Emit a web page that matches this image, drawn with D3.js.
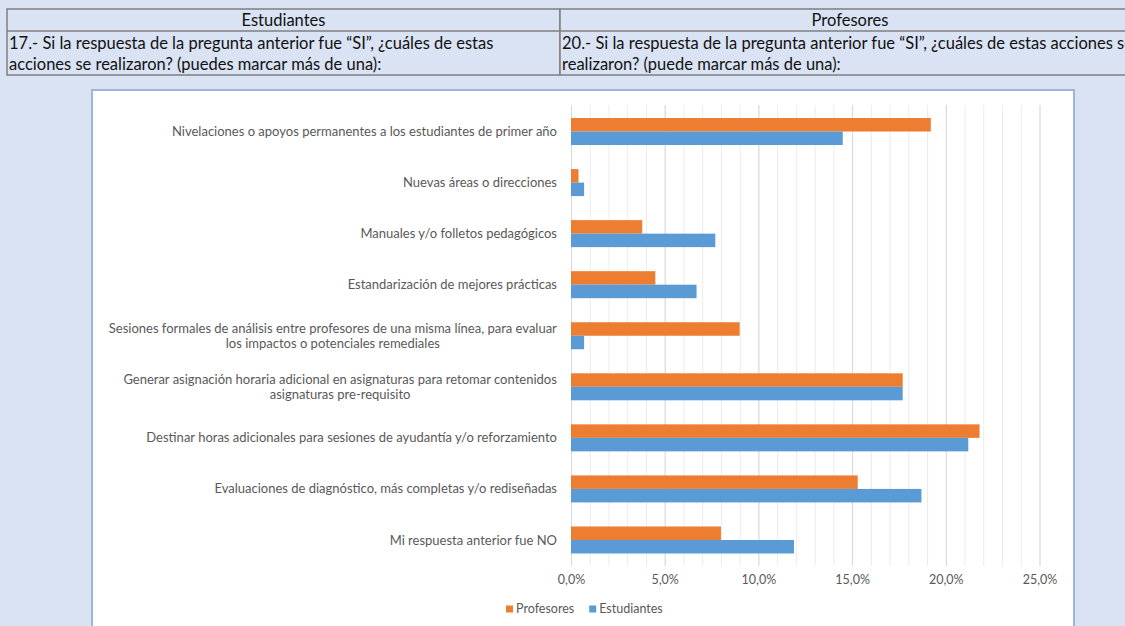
<!DOCTYPE html>
<html>
<head>
<meta charset="utf-8">
<script src="https://cdn.jsdelivr.net/npm/d3@7"></script>
<style>
  body { margin: 0; background: #dae3f3; }
  svg { display: block; }
</style>
</head>
<body>
<div id="chart"></div>
<script>
// Data
const categories = [
    "Nivelaciones o apoyos permanentes a los estudiantes de primer año",
    "Nuevas áreas o direcciones",
    "Manuales y/o folletos pedagógicos",
    "Estandarización de mejores prácticas",
    "Sesiones formales de análisis entre profesores de una misma línea, para evaluar|los impactos o potenciales remediales",
    "Generar asignación horaria adicional en asignaturas para retomar contenidos|asignaturas pre-requisito",
    "Destinar horas adicionales para sesiones de ayudantía y/o reforzamiento",
    "Evaluaciones de diagnóstico, más completas y/o rediseñadas",
    "Mi respuesta anterior fue NO"
];
const profesores  = [19.2, 0.4, 3.8, 4.5, 9.0, 17.7, 21.8, 15.3, 8.0];
const estudiantes = [14.5, 0.7, 7.7, 6.7, 0.7, 17.7, 21.2, 18.7, 11.9];
const seriesNames = ["Profesores", "Estudiantes"];
const seriesColors = ["#ED7D31", "#5B9BD5"];
const xTicks = [0, 5, 10, 15, 20, 25];

const headers = ["Estudiantes", "Profesores"];
const questions = [
    ["17.- Si la respuesta de la pregunta anterior fue “SI”, ¿cuáles de estas", "acciones se realizaron? (puedes marcar más de una):"],
    ["20.- Si la respuesta de la pregunta anterior fue “SI”, ¿cuáles de estas acciones se", "realizaron? (puede marcar más de una):"]
];

const W = 1125, H = 626;
const svg = d3.select("#chart").append("svg")
    .attr("width", W)
    .attr("height", H);

// --- header table ---
const table = svg.append("g");
const colX = [7, 560, 1200];
const rowY = [9, 31, 75];
headers.forEach((h, i) => {
    table.append("rect")
        .attr("x", colX[i]).attr("y", rowY[0])
        .attr("width", colX[i + 1] - colX[i]).attr("height", rowY[2] - rowY[0])
        .attr("fill", "#dae3f3")
        .attr("stroke", "#7f7f7f").attr("stroke-width", 1.5);
    table.append("line")
        .attr("x1", colX[i]).attr("x2", colX[i + 1])
        .attr("y1", rowY[1]).attr("y2", rowY[1])
        .attr("stroke", "#7f7f7f").attr("stroke-width", 1.5);
    table.append("text")
        .attr("x", i === 0 ? (colX[0] + colX[1]) / 2 : 850)
        .attr("y", 26)
        .attr("text-anchor", "middle")
        .style("font", "16.5px Lato")
        .style("fill", "#111")
        .text(h);
    questions[i].forEach((line, j) => {
        table.append("text")
            .attr("x", colX[i] + 2)
            .attr("y", 49 + j * 21)
            .style("font", "16.5px Lato")
            .style("fill", "#111")
            .text(line);
    });
});

// --- chart frame ---
svg.append("rect")
    .attr("x", 92).attr("y", 90)
    .attr("width", 1074 - 92).attr("height", 560)
    .attr("fill", "#fff")
    .attr("stroke", "#9db4dc").attr("stroke-width", 2);

const x = d3.scaleLinear().domain([0, 25]).range([571, 1039.5]);
const y = d3.scaleBand().domain(categories).range([105, 566.5])
    .paddingInner(0.471).paddingOuter(0.255);
const yTop = 105, yBot = 566;

const g = svg.append("g");

// minor and major gridlines
g.append("g")
    .attr("transform", `translate(0,${yBot})`)
    .call(d3.axisBottom(x).ticks(25).tickSize(-(yBot - yTop)).tickFormat(""))
    .call(a => a.select(".domain").remove())
    .call(a => a.selectAll("line").attr("stroke", "#ececec"));
g.append("g")
    .attr("transform", `translate(0,${yBot})`)
    .call(d3.axisBottom(x).tickValues(xTicks).tickSize(-(yBot - yTop)).tickFormat(""))
    .call(a => a.select(".domain").remove())
    .call(a => a.selectAll("line").attr("stroke", "#d9d9d9"));

// bars
const bh = y.bandwidth() / 2;
[profesores, estudiantes].forEach((vals, s) => {
    g.selectAll(null)
        .data(categories)
        .join("rect")
        .attr("x", x(0))
        .attr("y", d => y(d) + s * bh)
        .attr("width", (d, i) => x(vals[i]) - x(0))
        .attr("height", bh)
        .attr("fill", seriesColors[s]);
});

// category labels
const lab = g.append("g")
    .style("font", "13px Lato")
    .style("fill", "#595959");
categories.forEach(c => {
    const lines = c.split("|");
    const cy = y(c) + y.bandwidth() / 2;
    if (lines.length === 1) {
        lab.append("text")
            .attr("x", 557).attr("y", cy).attr("dy", "0.35em")
            .attr("text-anchor", "end")
            .text(c);
    } else {
        const t = lab.append("text").attr("text-anchor", "middle");
        lines.forEach((l, j) => t.append("tspan").attr("x", 0).attr("y", cy + (j - 0.5) * 15).attr("dy", "0.35em").text(l));
        // centre the block, right edge at 557
        const w = t.node().getBBox().width;
        t.selectAll("tspan").attr("x", 557 - w / 2);
    }
});

// x axis labels
const fmt = d3.formatLocale({decimal: ",", thousands: ".", grouping: [3], currency: ["", ""]}).format(".1f");
g.append("g")
    .attr("transform", `translate(0,${yBot})`)
    .call(d3.axisBottom(x).tickValues(xTicks).tickSize(0).tickPadding(9).tickFormat(d => fmt(d) + "%"))
    .call(a => a.select(".domain").remove())
    .call(a => a.selectAll("text").style("font", "12.5px Lato").style("fill", "#595959"));

// legend
const leg = svg.append("g").attr("transform", "translate(506,609)");
let lx = 0;
seriesNames.forEach((n, i) => {
    leg.append("rect").attr("x", lx).attr("y", -3.5).attr("width", 7).attr("height", 7).attr("fill", seriesColors[i]);
    const t = leg.append("text").attr("x", lx + 10).attr("dy", "0.35em")
        .style("font", "12.5px Lato").style("fill", "#595959").text(n);
    lx += 10 + t.node().getComputedTextLength() + 15;
});
</script>
</body>
</html>
